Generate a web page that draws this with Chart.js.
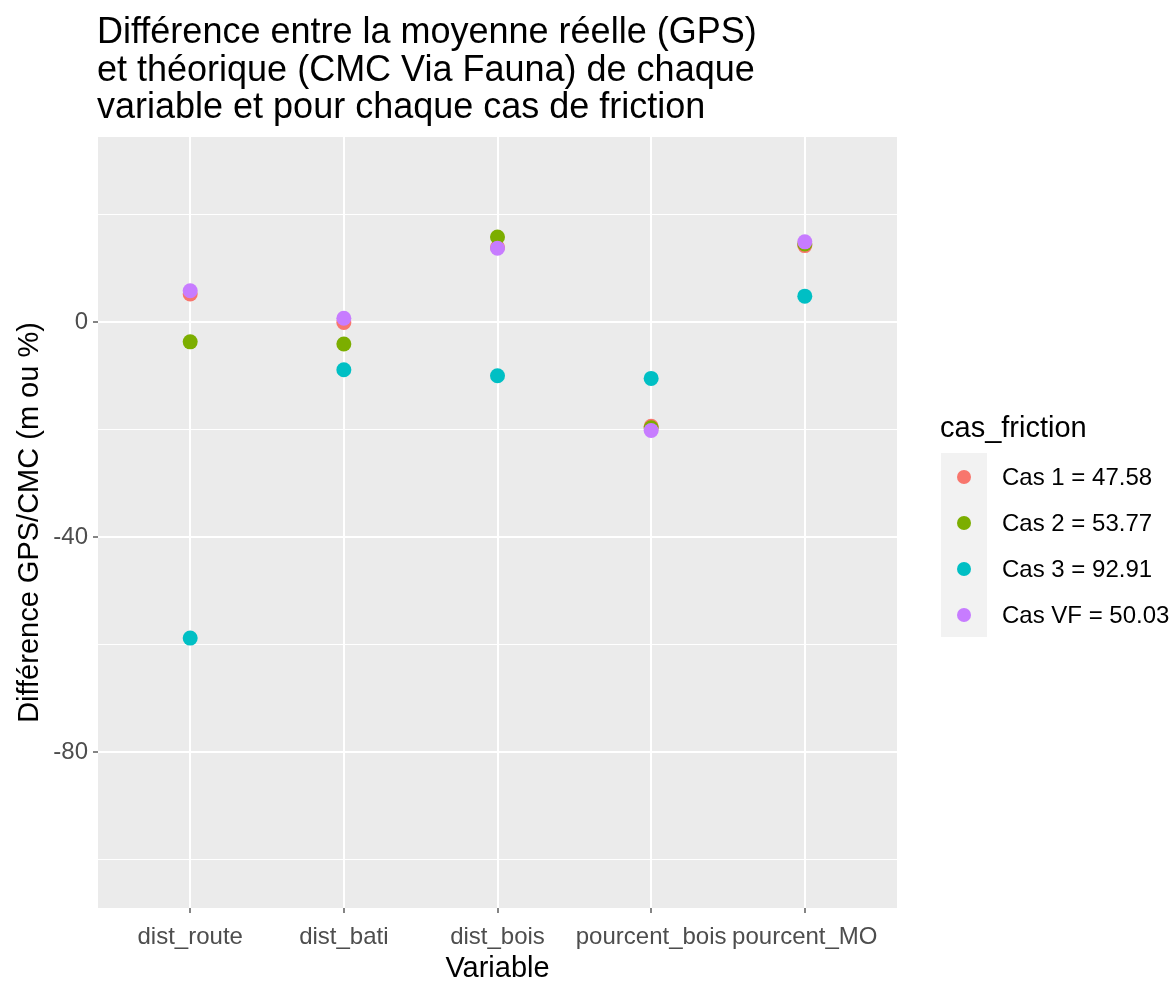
<!DOCTYPE html>
<html>
<head>
<meta charset="utf-8">
<script src="https://cdn.jsdelivr.net/npm/chart.js@4.4.0/dist/chart.umd.min.js"></script>
<style>
  html, body { margin: 0; padding: 0; background: #fff; }
  #wrap { width: 1172px; height: 981px; position: relative; }
</style>
</head>
<body>
<div id="wrap"><canvas id="chart" width="1172" height="981"></canvas></div>
<script>
// --- Data ---
const variables = ['dist_route', 'dist_bati', 'dist_bois', 'pourcent_bois', 'pourcent_MO'];
const cas1 = [5.2, -0.1, 13.9, -19.4, 14.2];
const cas2 = [-3.7, -4.1, 15.8, -19.7, 14.5];
const cas3 = [-58.8, -8.9, -10.0, -10.5, 4.8];
const casVF = [5.8, 0.7, 13.7, -20.2, 14.9];
const seriesLabels = ['Cas 1 = 47.58', 'Cas 2 = 53.77', 'Cas 3 = 92.91', 'Cas VF = 50.03'];
const seriesColors = ['#F8766D', '#7CAE00', '#00BFC4', '#C77CFF'];
const yTicks = [20, 0, -20, -40, -60, -80, -100];
const titleLines = [
  'Différence entre la moyenne réelle (GPS)',
  'et théorique (CMC Via Fauna) de chaque',
  'variable et pour chaque cas de friction'
];

const FONT = '"Liberation Sans", Arial, sans-serif';

// --- Helpers ---
function getEl(id) {
  return document.getElementById(id);
}
function toPoints(values) {
  return values.map((v, i) => ({ x: i, y: v }));
}
function isMajor(v) {
  return v % 40 === 0;
}

// --- Plugin: panel background, titles and legend ---
const decor = {
  id: 'decor',
  beforeDraw(chart) {
    const { ctx, chartArea: a } = chart;
    ctx.save();
    ctx.fillStyle = '#EBEBEB';
    ctx.fillRect(a.left, a.top, a.right - a.left, a.bottom - a.top);
    ctx.restore();
  },
  afterDraw(chart) {
    const { ctx, chartArea: a } = chart;
    ctx.save();
    ctx.fillStyle = '#000';

    // title
    ctx.font = '36px ' + FONT;
    ctx.textAlign = 'left';
    ctx.textBaseline = 'alphabetic';
    titleLines.forEach((t, i) => ctx.fillText(t, 97, 43 + i * 37.5));

    // axis titles
    ctx.font = '29px ' + FONT;
    ctx.textAlign = 'center';
    ctx.textBaseline = 'middle';
    ctx.fillText('Variable', (a.left + a.right) / 2, 969);
    ctx.save();
    ctx.translate(30, (a.top + a.bottom) / 2);
    ctx.rotate(-Math.PI / 2);
    ctx.fillText('Différence GPS/CMC (m ou %)', 0, 0);
    ctx.restore();

    // legend
    ctx.textAlign = 'left';
    ctx.font = '29px ' + FONT;
    ctx.fillText('cas_friction', 940, 429);
    ctx.fillStyle = '#F2F2F2';
    ctx.fillRect(941, 453, 46, 46 * seriesLabels.length);
    ctx.font = '24px ' + FONT;
    seriesLabels.forEach((lab, i) => {
      const y = 477 + i * 46;
      ctx.fillStyle = seriesColors[i];
      ctx.beginPath();
      ctx.arc(964, y, 7, 0, Math.PI * 2);
      ctx.fill();
      ctx.fillStyle = '#000';
      ctx.fillText(lab, 1002, y + 1);
    });
    ctx.restore();
  }
};

// --- Chart setup ---
function initChart() {
  const sets = [cas1, cas2, cas3, casVF];
  const datasets = sets.map((vals, i) => ({
    label: seriesLabels[i],
    data: toPoints(vals),
    backgroundColor: seriesColors[i],
    borderWidth: 0,
    pointRadius: 7.5,
    pointHoverRadius: 7.5,
    order: sets.length - i
  }));

  return new Chart(getEl('chart').getContext('2d'), {
    type: 'scatter',
    data: { datasets },
    options: {
      responsive: false,
      animation: false,
      layout: { padding: { left: 0, top: 137, right: 275, bottom: 0 } },
      plugins: { legend: { display: false }, tooltip: { enabled: false }, title: { display: false } },
      scales: {
        x: {
          type: 'linear',
          min: -0.6,
          max: 4.6,
          afterBuildTicks: s => { s.ticks = variables.map((v, i) => ({ value: i })); },
          afterFit: s => { s.height = 73; },
          border: { display: false },
          grid: { color: '#FFFFFF', lineWidth: 2, tickColor: '#333333', tickLength: 5, tickWidth: 1.2 },
          ticks: {
            callback: v => variables[v],
            color: '#4D4D4D',
            font: { family: FONT, size: 24 },
            padding: 10,
            maxRotation: 0,
            autoSkip: false
          }
        },
        y: {
          min: -109,
          max: 34.4,
          afterBuildTicks: s => { s.ticks = yTicks.map(v => ({ value: v })); },
          afterFit: s => { s.width = 98; },
          border: { display: false },
          grid: {
            color: '#FFFFFF',
            lineWidth: c => (isMajor(c.tick.value) ? 2 : 1),
            tickColor: c => (isMajor(c.tick.value) ? '#333333' : 'rgba(0,0,0,0)'),
            tickLength: 5,
            tickWidth: 1.2
          },
          ticks: {
            callback: v => (isMajor(v) ? String(v) : ''),
            color: '#4D4D4D',
            font: { family: FONT, size: 24 },
            padding: 5
          }
        }
      }
    },
    plugins: [decor]
  });
}

// --- Init ---
document.addEventListener('DOMContentLoaded', initChart);
</script>
</body>
</html>
